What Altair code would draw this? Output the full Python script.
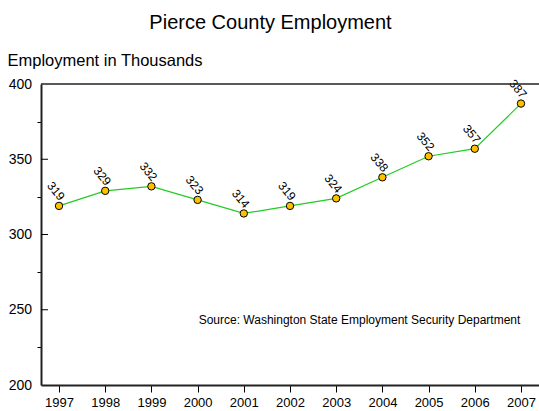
import altair as alt
import pandas as pd

years = [1997, 1998, 1999, 2000, 2001, 2002, 2003, 2004, 2005, 2006, 2007]
employment = [319, 329, 332, 323, 314, 319, 324, 338, 352, 357, 387]
y_ticks = [200, 225, 250, 275, 300, 325, 350, 375, 400]
y_major_inner = [250, 300, 350]
title_text = "Pierce County Employment"
y_title = "Employment in Thousands"
source_text = "Source: Washington State Employment Security Department"

FONT = "Liberation Sans, Arial, Helvetica, sans-serif"
W, H = 498, 301

df = pd.DataFrame({"year": years, "emp": employment})
ticks_df = pd.DataFrame({"emp": y_major_inner})
title_df = pd.DataFrame({"t": [title_text]})
source_df = pd.DataFrame({"t": [source_text]})
one_df = pd.DataFrame({"a": [0]})

xscale = alt.Scale(domain=[1996.61, 2007.39], nice=False, zero=False)
yscale = alt.Scale(domain=[200, 400], nice=False, zero=False)

x_axis = alt.Axis(values=years, format="d", title=None, grid=False,
                  tickSize=7, tickColor="black", tickWidth=1,
                  domainColor="#222222", domainWidth=2,
                  labelFontSize=13, labelPadding=4, labelFont=FONT,
                  labelColor="black", labelOverlap=False, labelFlush=False)
y_axis = alt.Axis(values=y_ticks, title=y_title, titleAngle=0, titleX=-34, titleY=-19,
                  titleAlign="left", titleBaseline="alphabetic", titleFontSize=16.5,
                  titleFontWeight="normal", titleFont=FONT, titleColor="black",
                  labelExpr="datum.value % 50 === 0 ? datum.label : ''",
                  labelFontSize=14, labelFont=FONT, labelColor="black",
                  labelPadding=5.5, labelOverlap=False, labelFlush=False,
                  tickSize=4, tickColor="black", tickWidth=1,
                  tickOpacity={"condition": {"test": "datum.value % 50 === 0", "value": 0}, "value": 1},
                  domainColor="#222222", domainWidth=2, grid=False)

X = alt.X("year:Q", scale=xscale, axis=x_axis)
Y = alt.Y("emp:Q", scale=yscale, axis=y_axis)

line = alt.Chart(df).mark_line(color="#22cc22", strokeWidth=1.2).encode(x=X, y=Y)
points = alt.Chart(df).mark_point(
    shape="circle", filled=True, fill="#FFC000", stroke="black",
    strokeWidth=1, size=55, opacity=1
).encode(x=X, y=Y)
labels = alt.Chart(df).mark_text(
    angle=50, radius=15, theta=6.08, align="center", baseline="middle",
    fontSize=12, font=FONT, color="black"
).encode(x=X, y=Y, text="emp:Q")

inner_ticks = alt.Chart(ticks_df).mark_rule(color="black", strokeWidth=1).encode(
    y=Y, x=alt.value(0), x2=alt.value(7))
top_border = alt.Chart(one_df).mark_rule(color="#222222", strokeWidth=1.5).encode(
    x=alt.value(0), x2=alt.value(W), y=alt.value(0))
title = alt.Chart(title_df).mark_text(
    fontSize=20, font=FONT, color="black", align="center", baseline="alphabetic"
).encode(text="t:N", x=alt.value(229.5), y=alt.value(-55))
source = alt.Chart(source_df).mark_text(
    fontSize=12, font=FONT, color="black", align="center", baseline="alphabetic"
).encode(text="t:N", x=alt.value(318.5), y=alt.value(240))

chart = alt.layer(line, points, labels, inner_ticks, top_border, title, source).properties(
    width=W, height=H,
    autosize=alt.AutoSizeParams(type="none"),
    padding={"left": 41, "top": 84, "right": 0, "bottom": 26},
    background="white",
).configure_view(stroke=None)

chart.save("out.html", embed_options={"renderer": "svg", "actions": False})
